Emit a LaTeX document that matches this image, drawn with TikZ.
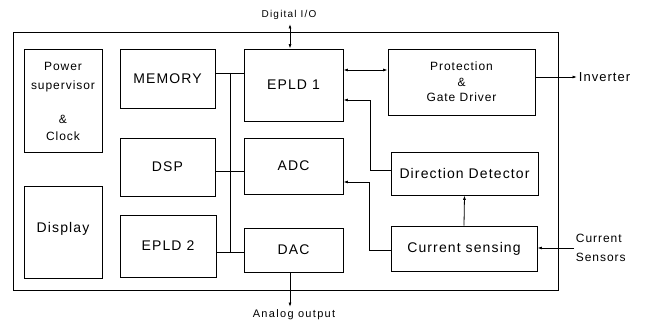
\documentclass[tikz,border=0pt]{standalone}
\usepackage{fontspec}
\setmainfont{Liberation Sans}
\newfontfamily\lbl{Liberation Sans}[LetterSpace=8]
\newfontfamily\lblsm{Liberation Sans}[LetterSpace=12]
\usetikzlibrary{arrows.meta}
\begin{document}
\begin{tikzpicture}[x=1pt,y=-1pt,
  every path/.style={line width=0.8pt},
  box/.style={draw, line width=0.9pt, inner sep=0pt, align=center,
    font=\lbl\fontsize{14}{16}\selectfont},
  boxsm/.style={box, font=\lbl\fontsize{12}{15.5}\selectfont},
  frm/.style={draw, line width=0.9pt, inner sep=0pt},
  lab/.style={inner sep=1.5pt, font=\lbl\fontsize{12}{19}\selectfont},
  tip/.style={-{Latex[length=4.5pt,width=3pt]}},
  dtip/.style={{Latex[length=4.5pt,width=3pt]}-{Latex[length=4.5pt,width=3pt]}}
]
\useasboundingbox (0,0) rectangle (646,326);
\node[frm, minimum width=545pt, minimum height=258pt] (frame) at (285.5,161) {};

\node[boxsm, minimum width=78pt, minimum height=103pt] (pwr) at (63,101)
  {Power\\[3.5pt]supervisor\\[18.5pt]\&\\[1.5pt]Clock};
\node[box, minimum width=78pt, minimum height=92pt] (disp) at (63,232) {\raisebox{10pt}{Display}};
\node[box, minimum width=95pt, minimum height=59pt] (mem) at (167.5,78.5) {MEMORY};
\node[box, minimum width=95pt, minimum height=58pt] (dsp) at (167.5,167) {DSP};
\node[box, minimum width=96pt, minimum height=62pt] (e2) at (168,246) {EPLD 2};
\node[box, minimum width=99pt, minimum height=72pt] (e1) at (293.5,85) {EPLD 1};
\node[box, minimum width=99pt, minimum height=56pt] (adc) at (293.5,166) {ADC};
\node[box, minimum width=99pt, minimum height=44pt] (dac) at (293.5,250) {DAC};
\node[boxsm, minimum width=147pt, minimum height=66pt] (prot) at (461.5,82)
  {Protection\\\&\\Gate Driver};
\node[box, minimum width=147pt, minimum height=43pt] (dd) at (464.5,173.5) {Direction Detector};
\node[box, minimum width=146pt, minimum height=45pt] (cs) at (464,248.5) {Current sensing};

% bus
\coordinate (bt) at (230,73);
\coordinate (bm) at (230,171);
\coordinate (bb) at (230,252);
\draw (bt) -- (bb);
\draw (bt -| mem.east) -- (bt -| e1.west);
\draw (bm -| dsp.east) -- (bm -| adc.west);
\draw (bb -| e2.east) -- (bb -| dac.west);

% Digital I/O
\node[inner sep=1pt, font=\lblsm\fontsize{10}{12}\selectfont] (dio) at (289,15) {Digital I/O};
\coordinate (dioend) at (290,24);
\draw[dtip] (dioend) -- (dioend |- e1.north);

% EPLD1 <-> Protection
\coordinate (y70) at (0,70);
\draw[dtip] (e1.east |- y70) -- (prot.west |- y70);

% Direction detector -> EPLD1
\coordinate (ddo) at (370,170);
\coordinate (ddi) at (370,100);
\draw[tip] (dd.west |- ddo) -- (ddo) -- (ddi) -- (e1.east |- ddi);

% Current sensing -> ADC
\coordinate (cso) at (369,250);
\coordinate (csi) at (369,182);
\draw[tip] (cs.west |- cso) -- (cso) -- (csi) -- (adc.east |- csi);

% Current sensing -> Direction detector
\draw[tip] (cs.north) -- (dd.south);

% Inverter
\node[lab, anchor=west, font=\lbl\fontsize{13}{15}\selectfont] (inv) at (577,77) {Inverter};
\draw[tip] (prot.east |- inv.west) -- (inv.west);

% Current sensors
\node[lab, anchor=west, align=left] (csen) at (574,248) {Current\\Sensors};
\draw[tip] (csen.west) -- (cs.east |- csen.west);

% Analog output
\node[inner sep=1pt, font=\lblsm\fontsize{11}{13}\selectfont] (ao) at (294,315) {Analog output};
\coordinate (aoend) at (290,307);
\draw[tip] (dac.south -| aoend) -- (aoend);
\end{tikzpicture}
\end{document}
